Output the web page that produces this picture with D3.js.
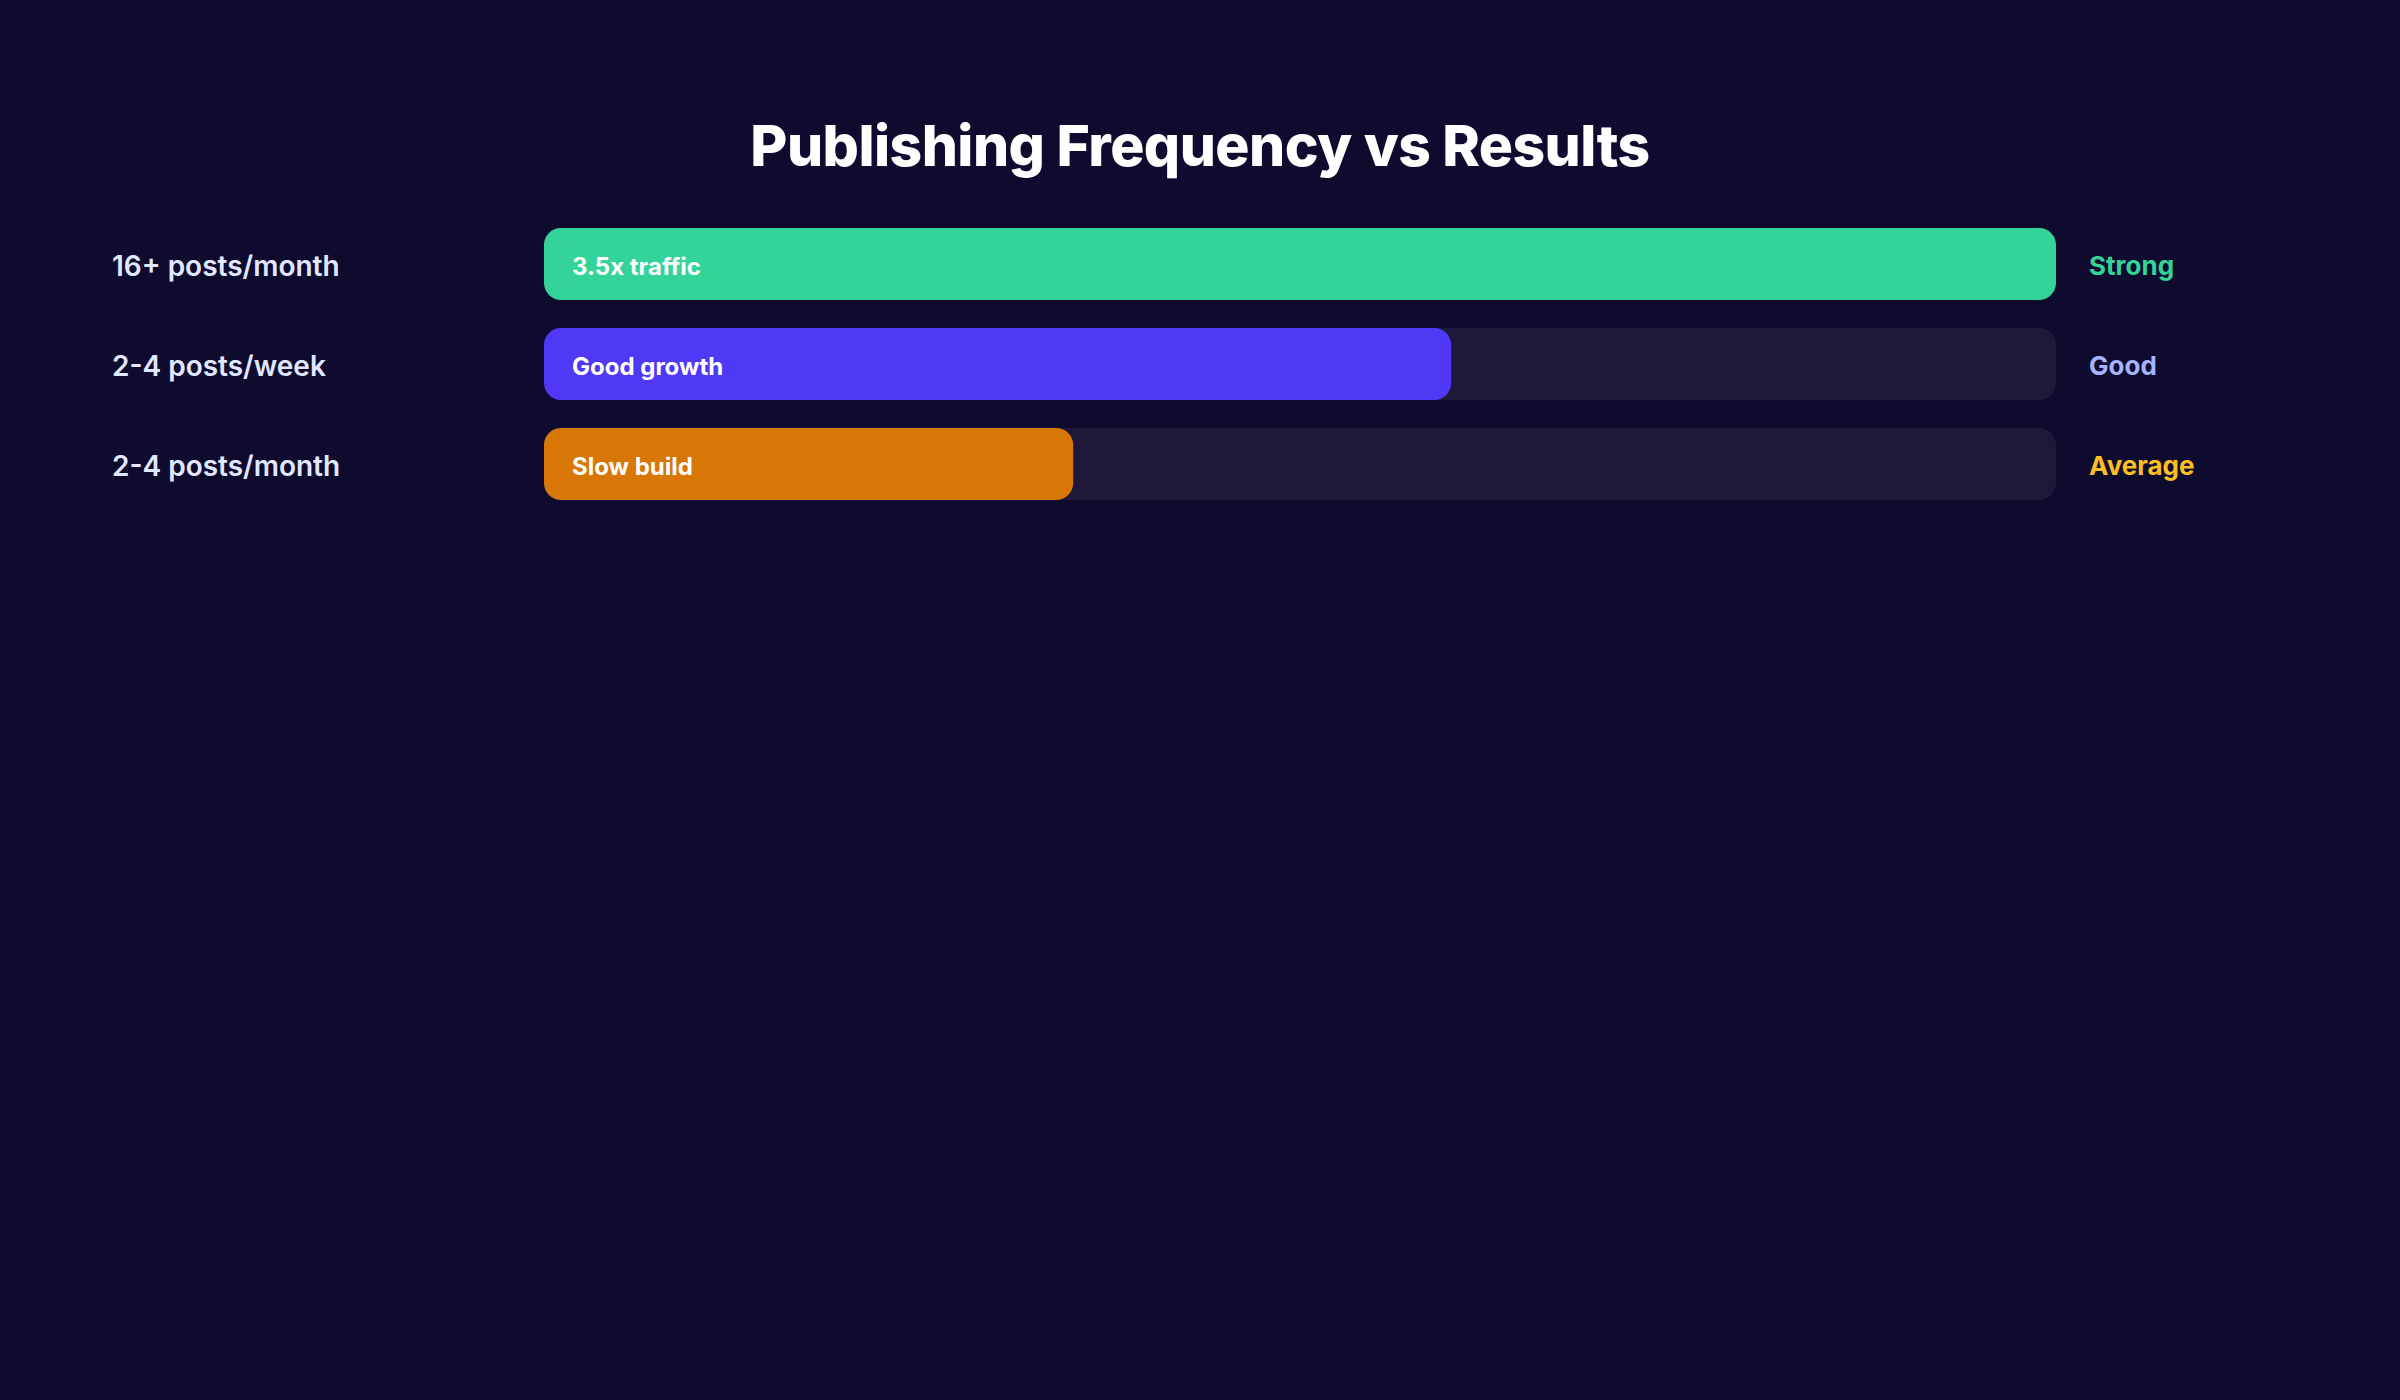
<!DOCTYPE html>
<html>
<head>
<meta charset="utf-8">
<script src="https://cdn.jsdelivr.net/npm/d3@7"></script>
<style>
  html, body { margin: 0; padding: 0; background: #0f0b2e; }
  svg { display: block; font-family: Inter, "Noto Sans", sans-serif; }
</style>
</head>
<body>
<svg id="chart"></svg>
<script>
// data
const categories = ["16+ posts/month", "2-4 posts/week", "2-4 posts/month"];
const values = [100, 60, 35];
const barLabels = ["3.5x traffic", "Good growth", "Slow build"];
const ratings = ["Strong", "Good", "Average"];

const barColors = ["#34d399", "#4f39f6", "#d97706"];
const ratingColors = ["#34d399", "#a5b4fc", "#fbbf24"];

var svgWidth = 2400, svgHeight = 1400;

var svg = d3.select("#chart")
  .attr("width", svgWidth)
  .attr("height", svgHeight);

svg.append("rect")
  .attr("width", svgWidth)
  .attr("height", svgHeight)
  .attr("fill", "#0f0b2e");

svg.append("text")
  .attr("x", 1200)
  .attr("y", 166)
  .attr("text-anchor", "middle")
  .attr("fill", "#ffffff")
  .attr("font-size", 57)
  .attr("font-weight", 800)
  .attr("letter-spacing", -0.55)
  .text("Publishing Frequency vs Results");

var x = d3.scaleLinear()
  .domain([0, 100])
  .range([544, 2056]);

var y = d3.scaleBand()
  .domain(categories)
  .range([214, 514])
  .paddingInner(0.28)
  .paddingOuter(0.14);

var rows = svg.selectAll(".row")
  .data(categories)
  .enter().append("g")
  .attr("class", "row");

// track
rows.append("rect")
  .attr("x", x(0))
  .attr("y", d => y(d))
  .attr("width", x(100) - x(0))
  .attr("height", y.bandwidth())
  .attr("rx", 17)
  .attr("fill", "#1e1939");

// bar
rows.append("rect")
  .attr("x", x(0))
  .attr("y", d => y(d))
  .attr("width", (d, i) => x(values[i]) - x(0))
  .attr("height", y.bandwidth())
  .attr("rx", 17)
  .attr("fill", (d, i) => barColors[i]);

// category label
rows.append("text")
  .attr("x", 112)
  .attr("y", d => y(d) + y.bandwidth() / 2 + 2)
  .attr("dy", "0.36em")
  .attr("fill", "#e0e7ff")
  .attr("font-size", 28)
  .attr("font-weight", 600)
  .text(d => d);

// inner label
rows.append("text")
  .attr("x", x(0) + 28)
  .attr("y", d => y(d) + y.bandwidth() / 2 + 2)
  .attr("dy", "0.36em")
  .attr("fill", "#ffffff")
  .attr("font-size", 24)
  .attr("font-weight", 700)
  .text((d, i) => barLabels[i]);

// rating
rows.append("text")
  .attr("x", x(100) + 33)
  .attr("y", d => y(d) + y.bandwidth() / 2 + 2)
  .attr("dy", "0.36em")
  .attr("fill", (d, i) => ratingColors[i])
  .attr("font-size", 26)
  .attr("font-weight", 700)
  .text((d, i) => ratings[i]);
</script>
</body>
</html>
